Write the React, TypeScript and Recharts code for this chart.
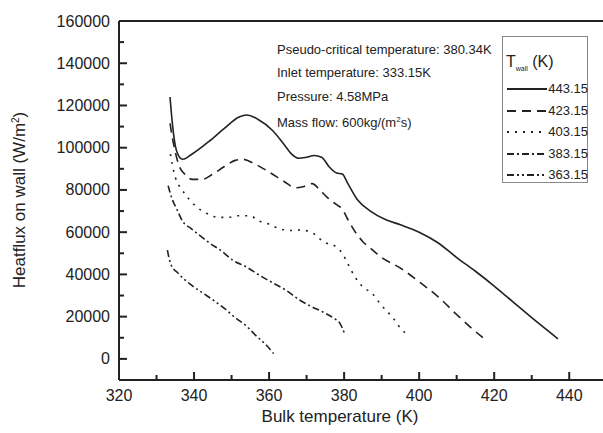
import React from 'react';
import { LineChart, Line, XAxis, YAxis, ReferenceLine } from 'recharts';

// Bulk temperature (K) vs heat flux on wall (W/m2), one list per wall temperature
const wall443 = [
  { t: 333.6, q: 124000 }, { t: 334.2, q: 112000 }, { t: 335, q: 101000 }, { t: 335.8, q: 96500 },
  { t: 337, q: 94500 }, { t: 339.5, q: 97000 }, { t: 344, q: 103000 }, { t: 348, q: 109000 },
  { t: 352, q: 114500 }, { t: 354, q: 115500 }, { t: 357, q: 113500 }, { t: 361, q: 108000 },
  { t: 364, q: 101500 }, { t: 366, q: 97000 }, { t: 368, q: 95000 }, { t: 370, q: 95500 },
  { t: 372, q: 96300 }, { t: 374, q: 95500 }, { t: 376, q: 91000 }, { t: 378, q: 88000 },
  { t: 379.5, q: 87500 }, { t: 381, q: 83000 }, { t: 383.5, q: 75500 }, { t: 387, q: 70000 },
  { t: 391, q: 66000 }, { t: 395, q: 63500 }, { t: 400, q: 60000 }, { t: 405, q: 55000 },
  { t: 410, q: 48000 }, { t: 415, q: 41500 }, { t: 420, q: 34500 }, { t: 425, q: 27000 },
  { t: 430, q: 19500 }, { t: 437, q: 9500 },
];
const wall423 = [
  { t: 333.6, q: 111500 }, { t: 334.2, q: 105000 }, { t: 335, q: 98000 }, { t: 336, q: 91500 },
  { t: 337.5, q: 87500 }, { t: 339.5, q: 85000 }, { t: 342, q: 85000 }, { t: 345, q: 87500 },
  { t: 348, q: 91000 }, { t: 351, q: 94000 }, { t: 353, q: 94500 }, { t: 356, q: 92500 },
  { t: 360, q: 88500 }, { t: 364, q: 84000 }, { t: 367, q: 81000 }, { t: 369, q: 81500 },
  { t: 371.5, q: 83000 }, { t: 373.5, q: 80000 }, { t: 375.5, q: 76500 }, { t: 378, q: 73000 },
  { t: 379.5, q: 71000 }, { t: 381, q: 66000 }, { t: 383, q: 60000 }, { t: 385, q: 55500 },
  { t: 387, q: 52500 }, { t: 390, q: 48000 }, { t: 395, q: 43000 }, { t: 400, q: 36500 },
  { t: 405, q: 29500 }, { t: 410, q: 21000 }, { t: 414, q: 14500 }, { t: 417, q: 10000 },
];
const wall403 = [
  { t: 333.7, q: 97000 }, { t: 334.2, q: 92000 }, { t: 335, q: 86000 }, { t: 336, q: 82000 },
  { t: 337, q: 79500 }, { t: 338.5, q: 76000 }, { t: 341, q: 71500 }, { t: 343.5, q: 68800 },
  { t: 346.5, q: 67000 }, { t: 349, q: 67000 }, { t: 352, q: 67800 }, { t: 355, q: 67800 },
  { t: 357, q: 65500 }, { t: 360, q: 63800 }, { t: 363, q: 61500 }, { t: 366, q: 60800 },
  { t: 368, q: 61000 }, { t: 371, q: 60300 }, { t: 373, q: 57500 }, { t: 375, q: 55000 },
  { t: 377.5, q: 53500 }, { t: 379.5, q: 50000 }, { t: 381, q: 45000 }, { t: 383, q: 38500 },
  { t: 385, q: 34000 }, { t: 387.5, q: 31000 }, { t: 389, q: 27500 }, { t: 391, q: 23300 },
  { t: 393, q: 19500 }, { t: 394.5, q: 15700 }, { t: 396.5, q: 11900 },
];
const wall383 = [
  { t: 333.1, q: 82000 }, { t: 334, q: 76500 }, { t: 335.5, q: 70500 }, { t: 337, q: 65000 },
  { t: 339, q: 62000 }, { t: 341.5, q: 58500 }, { t: 344, q: 55000 }, { t: 347, q: 51500 },
  { t: 350.5, q: 46500 }, { t: 354, q: 43500 }, { t: 357.5, q: 39500 }, { t: 361, q: 36000 },
  { t: 364.5, q: 32500 }, { t: 368, q: 28000 }, { t: 371, q: 25000 }, { t: 374, q: 22500 },
  { t: 377, q: 19500 }, { t: 379, q: 16500 }, { t: 380, q: 12500 },
];
const wall363 = [
  { t: 332.9, q: 51500 }, { t: 333.3, q: 48000 }, { t: 334, q: 44000 }, { t: 335.5, q: 41000 },
  { t: 337.5, q: 37500 }, { t: 340, q: 34000 }, { t: 342.5, q: 31000 }, { t: 345, q: 28000 },
  { t: 348, q: 24000 }, { t: 351, q: 19500 }, { t: 354, q: 15500 }, { t: 356.5, q: 11000 },
  { t: 359, q: 7000 }, { t: 361.2, q: 2500 },
];

const xTicks = [320, 330, 340, 350, 360, 370, 380, 390, 400, 410, 420, 430, 440];
const yTicks = [0, 10000, 20000, 30000, 40000, 50000, 60000, 70000, 80000, 90000, 100000,
  110000, 120000, 130000, 140000, 150000, 160000];

const notes = [
  'Pseudo-critical temperature: 380.34K',
  'Inlet temperature: 333.15K',
  'Pressure: 4.58MPa',
];

const series = [
  { name: '443.15', data: wall443, dash: undefined },
  { name: '423.15', data: wall423, dash: '9 6' },
  { name: '403.15', data: wall403, dash: '2 6' },
  { name: '383.15', data: wall383, dash: '7 3 2 3' },
  { name: '363.15', data: wall363, dash: '7 3 2 3 2 3' },
];

const INK = '#222';
const FONT = 'Arial, "Liberation Sans", Helvetica, sans-serif';
const LEFT = 119;
const BOTTOM = 380;

// ticks point inward; only every other one is labelled
const YTick = ({ y, payload }: any) => {
  const major = payload.value % 20000 === 0;
  return (
    <g>
      <line x1={LEFT} x2={LEFT + (major ? 8 : 5)} y1={y} y2={y} stroke={INK} strokeWidth={2} />
      {major && (
        <text x={110} y={y} dy={5.5} textAnchor="end" fill={INK} fontSize={16} fontFamily={FONT}>
          {payload.value}
        </text>
      )}
    </g>
  );
};

const XTick = ({ x, payload }: any) => {
  const major = payload.value % 20 === 0;
  return (
    <g>
      <line x1={x} x2={x} y1={BOTTOM} y2={BOTTOM - (major ? 8 : 5)} stroke={INK} strokeWidth={2} />
      {major && (
        <text x={x} y={401} textAnchor="middle" fill={INK} fontSize={16} fontFamily={FONT}>
          {payload.value}
        </text>
      )}
    </g>
  );
};

export default function App() {
  return (
    <div style={{ position: 'absolute', left: 0, top: 0, width: 603, height: 433, background: '#fff', fontFamily: FONT, color: INK }}>
      <LineChart width={603} height={433} margin={{ top: 21, right: 0, bottom: 0, left: 0 }}>
        <XAxis
          type="number"
          dataKey="t"
          domain={[320, 449]}
          ticks={xTicks}
          interval={0}
          height={53}
          tickSize={0}
          tickLine={false}
          tick={<XTick />}
          axisLine={{ stroke: INK, strokeWidth: 2 }}
        />
        <YAxis
          type="number"
          dataKey="q"
          domain={[-10000, 160000]}
          ticks={yTicks}
          interval={0}
          width={119}
          tickSize={0}
          tickLine={false}
          tick={<YTick />}
          axisLine={{ stroke: INK, strokeWidth: 2 }}
        />
        <ReferenceLine y={160000} stroke={INK} strokeWidth={2} />
        {series.map((s) => (
          <Line
            key={s.name}
            data={s.data}
            dataKey="q"
            type="monotone"
            stroke={INK}
            strokeWidth={1.6}
            strokeDasharray={s.dash}
            dot={false}
            isAnimationActive={false}
          />
        ))}
      </LineChart>

      {/* axis titles */}
      <div style={{ position: 'absolute', left: 0, width: 680, top: 407, textAlign: 'center', fontSize: 17 }}>
        Bulk temperature (K)
      </div>
      <div
        style={{
          position: 'absolute', left: 20, top: 200, fontSize: 17, whiteSpace: 'nowrap',
          transform: 'translate(-50%, -50%) rotate(-90deg)',
        }}
      >
        Heatflux on wall (W/m<sup style={{ fontSize: 10 }}>2</sup>)
      </div>

      {/* conditions */}
      <div style={{ position: 'absolute', left: 277, top: 38, fontSize: 13, lineHeight: '23.3px', whiteSpace: 'nowrap' }}>
        {notes.map((n) => (
          <div key={n}>{n}</div>
        ))}
        <div>
          Mass flow: 600kg/(m<sup style={{ fontSize: 8 }}>2</sup>s)
        </div>
      </div>

      {/* legend */}
      <div
        style={{
          position: 'absolute', left: 502, top: 36, width: 86, height: 147,
          border: '1px solid #888', boxSizing: 'border-box',
        }}
      >
        <div style={{ position: 'absolute', left: 3, top: 16, fontSize: 16, whiteSpace: 'nowrap' }}>
          T<sub style={{ fontSize: 7 }}>wall</sub> (K)
        </div>
        {series.map((s, i) => (
          <div key={s.name} style={{ position: 'absolute', left: 0, top: 44 + i * 21.5, width: 86, height: 16 }}>
            <svg width={42} height={16} style={{ position: 'absolute', left: 4, top: 0 }}>
              <line x1={0} x2={40} y1={8} y2={8} stroke={INK} strokeWidth={2} strokeDasharray={s.dash} />
            </svg>
            <div style={{ position: 'absolute', right: 1, top: 0, fontSize: 13, lineHeight: '16px' }}>{s.name}</div>
          </div>
        ))}
      </div>
    </div>
  );
}
